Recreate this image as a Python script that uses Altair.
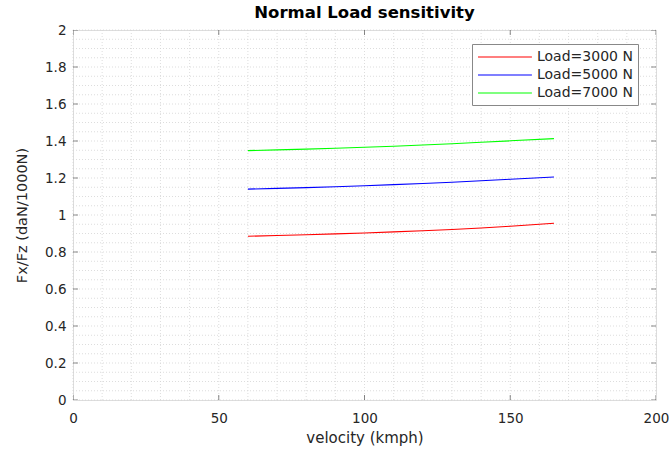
import altair as alt
import pandas as pd

velocity = [60, 70, 80, 90, 100, 110, 120, 130, 140, 150, 165]
load_3000 = [0.885, 0.889, 0.893, 0.898, 0.903, 0.909, 0.915, 0.922, 0.930, 0.939, 0.955]
load_5000 = [1.140, 1.144, 1.148, 1.153, 1.158, 1.164, 1.170, 1.177, 1.185, 1.193, 1.205]
load_7000 = [1.348, 1.352, 1.356, 1.361, 1.366, 1.372, 1.378, 1.385, 1.393, 1.401, 1.413]
series_names = ["Load=3000 N", "Load=5000 N", "Load=7000 N"]
series_colors = ["#ff0000", "#0000ff", "#00ff00"]

x_ticks = [0, 50, 100, 150, 200]
y_ticks = [0, 0.2, 0.4, 0.6, 0.8, 1.0, 1.2, 1.4, 1.6, 1.8, 2.0]
x_minor = list(range(0, 201, 10))
y_minor = [round(i * 0.05, 2) for i in range(0, 41)]

rows = []
for name, vals in zip(series_names, [load_3000, load_5000, load_7000]):
    for v, f in zip(velocity, vals):
        rows.append({"v": v, "f": f, "series": name})
df = pd.DataFrame(rows)

FONT = "DejaVu Sans"
TXT = "#262626"
xs = alt.Scale(domain=[0, 200], nice=False, zero=False)
ys = alt.Scale(domain=[0, 2], nice=False, zero=False)

x_axis = alt.Axis(values=x_ticks, title="velocity (kmph)", grid=False,
                  ticks=False, domain=False, labelPadding=11,
                  labelFont=FONT, labelFontSize=13.5, labelColor=TXT,
                  titleFont=FONT, titleFontSize=15, titleFontWeight="normal",
                  titleColor=TXT, titlePadding=6, labelFlush=False)
y_axis = alt.Axis(values=y_ticks, title="Fx/Fz (daN/1000N)", grid=False,
                  ticks=False, domain=False, labelPadding=7,
                  labelFont=FONT, labelFontSize=13.5, labelColor=TXT,
                  titleFont=FONT, titleFontSize=14.5, titleFontWeight="normal",
                  titleColor=TXT, titlePadding=15, labelFlush=False,
                  labelExpr="datum.value == 0 || datum.value == 1 || datum.value == 2 ? format(datum.value, 'd') : format(datum.value, '.1f')")

xgrid = alt.Chart(pd.DataFrame({"v": x_minor})).mark_rule(
    color="#d4d4d4", strokeDash=[1, 2], strokeWidth=0.8
).encode(x=alt.X("v:Q", scale=xs, axis=x_axis))

ygrid = alt.Chart(pd.DataFrame({"f": y_minor})).mark_rule(
    color="#d4d4d4", strokeDash=[1, 2], strokeWidth=0.8
).encode(y=alt.Y("f:Q", scale=ys, axis=y_axis))

lines = alt.Chart(df).mark_line(strokeWidth=1.1).encode(
    x=alt.X("v:Q", scale=xs, axis=x_axis),
    y=alt.Y("f:Q", scale=ys, axis=y_axis),
    color=alt.Color("series:N",
                    scale=alt.Scale(domain=series_names, range=series_colors),
                    legend=alt.Legend(title=None, orient="none", legendX=399, legendY=14,
                                      symbolType="M-1,0H6.7", symbolSize=196,
                                      symbolStrokeWidth=1.1, labelFont=FONT,
                                      labelFontSize=14, labelColor=TXT,
                                      strokeColor="#888888", fillColor="white",
                                      padding=5, rowPadding=3, labelOffset=44)),
)

xt_df = pd.DataFrame({"v": x_ticks})
yt_df = pd.DataFrame({"f": y_ticks})
tick_color = "#555555"
xt_bottom = alt.Chart(xt_df).mark_tick(orient="vertical", size=10, thickness=1,
                                       color=tick_color, clip=True).encode(
    x=alt.X("v:Q", scale=xs, axis=x_axis), y=alt.datum(0, scale=ys, axis=y_axis))
xt_top = alt.Chart(xt_df).mark_tick(orient="vertical", size=10, thickness=1,
                                    color=tick_color, clip=True).encode(
    x=alt.X("v:Q", scale=xs, axis=x_axis), y=alt.datum(2, scale=ys, axis=y_axis))
yt_left = alt.Chart(yt_df).mark_tick(orient="horizontal", size=10, thickness=1,
                                     color=tick_color, clip=True).encode(
    y=alt.Y("f:Q", scale=ys, axis=y_axis), x=alt.datum(0, scale=xs, axis=x_axis))
yt_right = alt.Chart(yt_df).mark_tick(orient="horizontal", size=10, thickness=1,
                                      color=tick_color, clip=True).encode(
    y=alt.Y("f:Q", scale=ys, axis=y_axis), x=alt.datum(200, scale=xs, axis=x_axis))

chart = alt.layer(xgrid, ygrid, lines, xt_bottom, xt_top, yt_left, yt_right).properties(
    width=583, height=370,
    title=alt.Title("Normal Load sensitivity", font=FONT, fontSize=16.5,
                    fontWeight="bold", color="#000000", anchor="middle", offset=2),
    autosize=alt.AutoSizeParams(type="none"),
    padding={"left": 73, "top": 30, "right": 13, "bottom": 50},
).configure_view(stroke="#666666", strokeWidth=1).configure(background="white")

chart.save("out.html", embed_options={"renderer": "svg", "actions": False})
